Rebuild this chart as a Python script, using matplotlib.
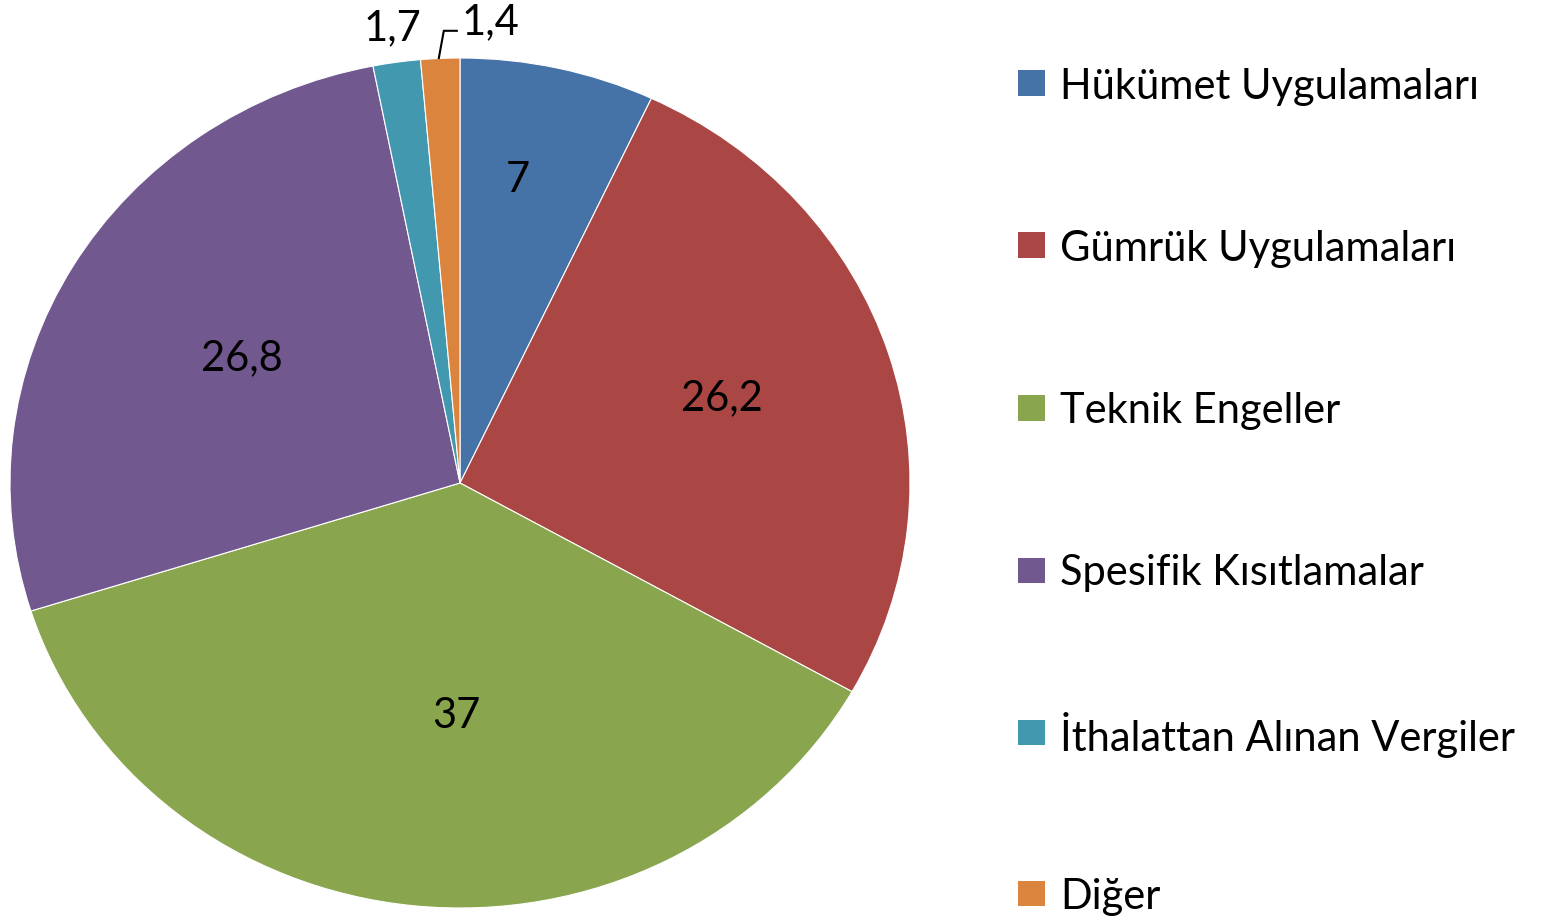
import matplotlib.pyplot as plt
from matplotlib.patches import Rectangle

plt.rcParams["font.family"] = ["Lato", "DejaVu Sans"]

categories = [
    "Hükümet Uygulamaları",
    "Gümrük Uygulamaları",
    "Teknik Engeller",
    "Spesifik Kısıtlamalar",
    "İthalattan Alınan Vergiler",
    "Diğer",
]
values = [7, 26.2, 37, 26.8, 1.7, 1.4]
value_labels = ["7", "26,2", "37", "26,8", "1,7", "1,4"]
colors = ["#4572A7", "#AA4643", "#89A54E", "#71588F", "#4198AF", "#DB843D"]

# data-label anchor points (pie radius units), as Excel placed them
label_xy = [(0.129, 0.713), (0.582, 0.20), (-0.007, -0.548), (-0.484, 0.294),
            (-0.151, 1.071), (0.067, 1.085)]

W, H = 1560, 919
fig = plt.figure(figsize=(W / 100, H / 100), dpi=100)
# pie box in pixels: x 10..910, y 58..908 (slightly elliptical in the original)
ax = fig.add_axes([10 / W, (H - 908) / H, 900 / W, 850 / H])

wedges, _ = ax.pie(values, colors=colors, startangle=90, counterclock=False,
                   wedgeprops=dict(edgecolor="white", linewidth=0.8))
ax.set_aspect("auto")
ax.set_xlim(-1, 1)
ax.set_ylim(-1, 1)
ax.axis("off")

FS = 30
for lab, (x, y) in zip(value_labels, label_xy):
    ax.text(x, y, lab, ha="center", va="center", fontsize=FS,
            color="black", clip_on=False)

# leader line for 1,4
ax.plot([-0.047, -0.036, -0.007], [1.0, 1.064, 1.064], color="black",
        linewidth=1.5, clip_on=False)

# legend
ys = [83, 245, 408, 570, 732, 893]
for lab, col, y in zip(categories, colors, ys):
    fig.patches.append(Rectangle((1018 / W, (H - y - 12.5) / H), 27 / W, 25 / H,
                                 transform=fig.transFigure, facecolor=col,
                                 edgecolor="none"))
    fig.text(1060 / W, (H - y) / H, lab, ha="left", va="center_baseline",
             fontsize=FS, color="black")

fig.savefig("out.png", dpi=100, facecolor="white")
